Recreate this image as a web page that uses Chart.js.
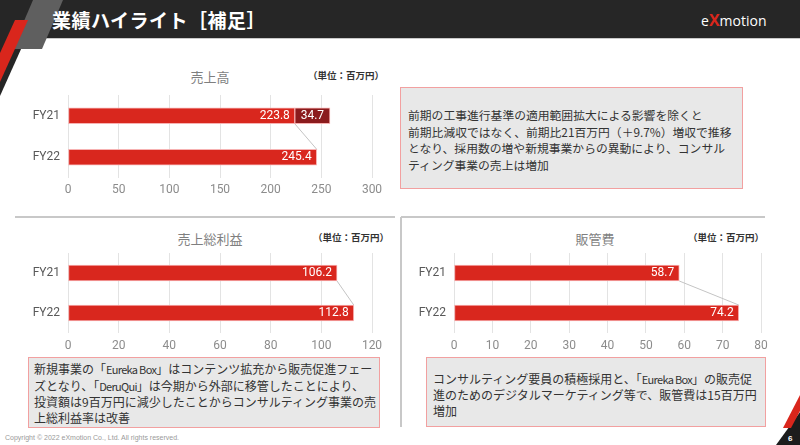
<!DOCTYPE html>
<html lang="ja">
<head>
<meta charset="utf-8">
<title>業績ハイライト［補足］</title>
<script src="https://cdn.jsdelivr.net/npm/chart.js@4.4.1/dist/chart.umd.min.js"></script>
<style>
  html, body { margin: 0; padding: 0; }
  body {
    width: 800px; height: 445px; position: relative; overflow: hidden;
    background: #fff; font-family: "Noto Sans CJK JP", "Noto Sans", sans-serif;
  }
  .abs { position: absolute; }
  .header { left: 0; top: 0; width: 800px; height: 38px; background: #262626; border-bottom: 1px solid #c9c9c9; }
  .title { left: 52px; top: 6px; color: #fff; font-size: 19px; font-weight: bold; letter-spacing: 0.5px; }
  .logo { left: 701px; top: 9px; color: #fff; font-family: "Open Sans", sans-serif; font-size: 14px; }
  .logo b { color: #d9261c; font-size: 16px; }
  .ctitle { color: #7f7f7f; font-size: 13px; transform: translateX(-50%); }
  .unit { color: #333; font-size: 9.5px; font-weight: bold; }
  .box {
    background: #e8e8e8; border: 1.5px solid #f2a0a0; box-sizing: border-box;
    color: #333; font-size: 12px; white-space: nowrap;
  }
  .narrow { font-size: 11px; letter-spacing: -0.7px; }
  .rule { background: #c8c8c8; }
  canvas { position: absolute; }
  .copy { left: 5px; top: 434px; font-family: "Liberation Sans", sans-serif; font-size: 7px; color: #9a9a9a; }
</style>
</head>
<body>
<div class="abs header"></div>
<svg class="abs" style="left:0;top:0" width="800" height="445">
  <polygon points="0,38 26,38 0,96" fill="#262626"/>
  <polygon points="33,0 63,0 42,49 12,49" fill="#5f5f5f"/>
  <polygon points="15,20 28,20 0,82 0,53" fill="#d9261c"/>
  <polygon points="776,445 800,445 800,412" fill="#1c1c1c"/>
  <polygon points="783,428 791,428 800,411 800,395" fill="#d9261c"/>
  <text x="788" y="441" fill="#fff" font-size="8" font-weight="bold" font-family="Liberation Sans">6</text>
</svg>
<div class="abs title">業績ハイライト［補足］</div>
<div class="abs logo">e<b>X</b>motion</div>

<!-- 売上高 -->
<div class="abs ctitle" style="left:210px;top:67px">売上高</div>
<div class="abs unit" style="left:308px;top:68px">（単位：百万円）</div>
<canvas id="salesChart" style="left:8px;top:90px" width="376" height="110"></canvas>
<div class="abs box" style="left:400px;top:87px;width:343px;height:102px;padding:19px 0 0 7px;line-height:16.5px;font-size:11.8px">
前期の工事進行基準の適用範囲拡大による影響を除くと<br>
前期比減収ではなく、前期比21百万円（＋9.7%）増収で推移<br>
となり、採用数の増や新規事業からの異動により、コンサル<br>
ティング事業の売上は増加
</div>

<div class="abs rule" style="left:15px;top:216px;width:380px;height:1.5px"></div>
<div class="abs rule" style="left:401px;top:216px;width:364px;height:1.5px"></div>
<div class="abs rule" style="left:400px;top:217px;width:1.5px;height:210px"></div>

<!-- 売上総利益 -->
<div class="abs ctitle" style="left:210px;top:229px">売上総利益</div>
<div class="abs unit" style="left:313px;top:230px">（単位：百万円）</div>
<canvas id="grossChart" style="left:8px;top:248px" width="376" height="110"></canvas>
<div class="abs box" style="left:28px;top:357px;width:352px;height:71px;padding:3px 0 0 5px;line-height:15.7px">
新規事業の「<span class="narrow">Eureka Box</span>」はコンテンツ拡充から販売促進フェー<br>
ズとなり、「<span class="narrow">DeruQui</span>」は今期から外部に移管したことにより、<br>
投資額は9百万円に減少したことからコンサルティング事業の売<br>
上総利益率は改善
</div>

<!-- 販管費 -->
<div class="abs ctitle" style="left:595px;top:229px">販管費</div>
<div class="abs unit" style="left:688px;top:230px">（単位：百万円）</div>
<canvas id="sgaChart" style="left:395px;top:248px" width="380" height="110"></canvas>
<div class="abs box" style="left:426px;top:357px;width:340px;height:70px;padding:13px 0 0 6px;line-height:15.3px">
コンサルティング要員の積極採用と、「<span class="narrow">Eureka Box</span>」の販売促<br>
進のためのデジタルマーケティング等で、販管費は15百万円<br>
増加
</div>

<div class="abs copy">Copyright © 2022 eXmotion Co., Ltd. All rights reserved.</div>

<script>
// Data (百万円)
const categories = ['FY21', 'FY22'];
const salesBase = [223.8, 245.4];
const salesExtra = [34.7, null];   // 工事進行基準の影響分
const grossProfit = [106.2, 112.8];
const sgaExpense = [58.7, 74.2];

const salesTicks = { max: 300, step: 50 };
const grossTicks = { max: 120, step: 20 };
const sgaTicks = { max: 80, step: 10 };

const RED = '#d9271e';
const DARK_RED = '#8b1b1d';

// value labels inside bars
const barLabels = {
    id: 'barLabels',
    afterDatasetsDraw(chart) {
        const ctx = chart.ctx;
        ctx.save();
        ctx.font = '12px Roboto, sans-serif';
        ctx.fillStyle = '#ffffff';
        ctx.textBaseline = 'middle';
        chart.data.datasets.forEach((ds, di) => {
            const meta = chart.getDatasetMeta(di);
            meta.data.forEach((bar, i) => {
                const v = ds.data[i];
                if (v == null) return;
                if (ds.centerLabel) {
                    ctx.textAlign = 'center';
                    ctx.fillText(v.toFixed(1), (bar.x + bar.base) / 2, bar.y);
                } else {
                    ctx.textAlign = 'right';
                    ctx.fillText(v.toFixed(1), bar.x - 5, bar.y);
                }
            });
        });
        ctx.restore();
    }
};

// thin line from the end of FY21 bar to the end of FY22 bar
const connector = {
    id: 'connector',
    afterDatasetsDraw(chart) {
        const bars = chart.getDatasetMeta(0).data;
        if (bars.length < 2) return;
        const ctx = chart.ctx;
        ctx.save();
        ctx.strokeStyle = '#c4c4c4';
        ctx.lineWidth = 1;
        ctx.beginPath();
        ctx.moveTo(bars[0].x, bars[0].y + bars[0].height / 2);
        ctx.lineTo(bars[1].x, bars[1].y - bars[1].height / 2);
        ctx.stroke();
        ctx.restore();
    }
};

function makeChart(id, datasets, ticks, yWidth, xHeight, padRight, tickPad) {
    const ctx = document.getElementById(id).getContext('2d');
    return new Chart(ctx, {
        type: 'bar',
        data: { labels: categories, datasets: datasets },
        options: {
            indexAxis: 'y',
            responsive: false,
            animation: false,
            events: [],
            layout: { padding: { top: 5, right: padRight, left: 0, bottom: 0 } },
            plugins: { legend: { display: false }, tooltip: { enabled: false }, title: { display: false } },
            scales: {
                x: {
                    stacked: true,
                    min: 0,
                    max: ticks.max,
                    ticks: { stepSize: ticks.step, color: '#8c8c8c', font: { family: 'Roboto', size: 12 }, padding: tickPad, maxRotation: 0 },
                    grid: { color: '#e3e3e3', drawTicks: false },
                    border: { display: false },
                    afterFit: s => { s.height = xHeight; s.paddingLeft = 0; s.paddingRight = 0; }
                },
                y: {
                    stacked: true,
                    ticks: { color: '#595959', font: { family: 'Roboto', size: 12 }, padding: 8 },
                    grid: { display: false, drawTicks: false },
                    border: { display: false },
                    afterFit: s => { s.width = yWidth; s.paddingTop = 0; s.paddingBottom = 0; }
                }
            }
        },
        plugins: [connector, barLabels]
    });
}

function barSet(values, color, extra) {
    return Object.assign({
        data: values,
        backgroundColor: color,
        borderColor: 'rgba(246, 170, 170, 0.9)',
        borderWidth: 1,
        borderSkipped: false,
        barThickness: 16
    }, extra || {});
}

document.addEventListener('DOMContentLoaded', () => {
    makeChart('salesChart', [
        barSet(salesBase, RED),
        barSet(salesExtra, DARK_RED, { centerLabel: true })
    ], salesTicks, 60, 22, 12, 5);

    makeChart('grossChart', [barSet(grossProfit, RED)], grossTicks, 60, 25, 12, 6);

    makeChart('sgaChart', [barSet(sgaExpense, RED)], sgaTicks, 59, 25, 14, 6);
});
</script>
</body>
</html>
